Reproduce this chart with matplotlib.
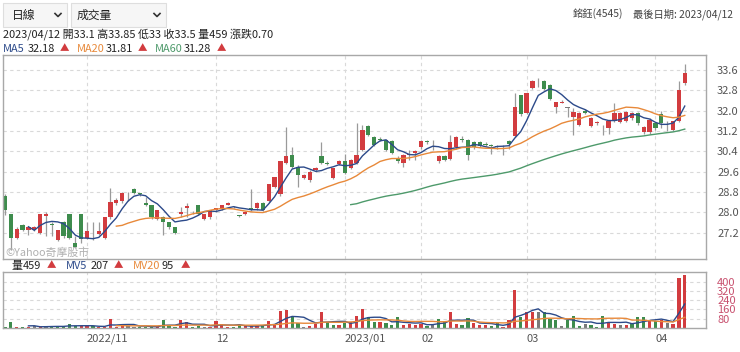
import numpy as np
import pandas as pd
import matplotlib
matplotlib.use('Agg')
import matplotlib.pyplot as plt
from matplotlib.patches import FancyBboxPatch
from matplotlib.lines import Line2D

plt.rcParams['font.family'] = ['Noto Sans CJK TC', 'DejaVu Sans']

# ---------------- data ----------------
opens = [28.65, 27.95, 27.0, 27.5, 27.3, 27.3, 27.2, 27.85, 27.55, 26.9,
         27.6, 27.95, 26.8, 27.95, 27.0, 27.0, 27.15, 27.0, 27.8, 28.35,
         28.45, 28.75, 28.9, 28.75, 28.35, 28.3, 27.75, 27.8, 27.6, 27.4,
         27.95, 28.15, 28.0, 28.3, 27.75, 27.8, 28.1, 28.15, 28.3, 28.2,
         27.9, 27.95, 28.15, 28.15, 28.35, 28.45, 29.0, 28.7, 29.95, 30.25,
         29.8, 29.35, 29.25, 29.65, 30.2, 29.95, 29.35, 29.9, 30.0, 29.75,
         29.95, 30.45, 31.4, 30.95, 30.9, 30.85, 30.8, 30.15, 29.95, 30.25,
         30.35, 30.55, 30.8, 30.75, 30.0, 30.2, 30.1, 30.55, 30.9, 30.85,
         30.75, 30.75, 30.7, 30.65, 30.6, 30.6, 30.8, 31.0, 32.6, 31.9,
         32.9, 33.15, 33.15, 33.0, 32.15, 32.3, 32.1, 31.75, 31.45, 32.0,
         31.4, 31.5, 31.3, 31.3, 31.6, 31.55, 31.6, 31.7, 31.9, 31.15,
         31.15, 31.5, 31.85, 31.5, 31.25, 31.6, 33.1]
highs = [28.7, 27.95, 27.4, 27.55, 27.4, 27.45, 27.95, 28.0, 27.6, 27.3,
         27.65, 27.95, 27.05, 27.95, 27.6, 27.6, 27.6, 27.8, 28.95, 28.55,
         28.8, 28.8, 28.95, 28.75, 28.6, 28.3, 28.1, 27.85, 27.6, 27.4,
         28.2, 28.35, 28.05, 28.3, 27.95, 28.1, 28.15, 28.3, 28.4, 28.25,
         27.9, 28.05, 28.9, 28.4, 28.4, 29.1, 29.4, 30.0, 31.35, 30.55,
         29.85, 29.5, 29.65, 29.8, 30.75, 30.0, 29.75, 30.05, 30.3, 30.1,
         31.5, 31.45, 31.45, 31.0, 30.95, 30.9, 30.85, 30.2, 30.3, 30.45,
         30.45, 30.85, 30.85, 30.85, 30.25, 30.25, 31.05, 31.0, 31.0, 30.9,
         30.8, 30.8, 30.75, 30.7, 30.65, 30.65, 30.85, 32.7, 32.6, 32.7,
         33.2, 33.3, 33.2, 33.05, 32.35, 32.4, 32.15, 32.1, 31.95, 32.05,
         31.75, 31.6, 31.45, 31.6, 32.3, 31.95, 32.0, 31.95, 31.95, 31.4,
         31.7, 31.55, 32.0, 31.6, 31.6, 33.15, 33.85]
lows = [27.9, 26.5, 26.95, 27.25, 27.1, 27.25, 27.15, 27.05, 27.05, 26.85,
        27.0, 26.95, 26.6, 26.8, 26.95, 26.9, 27.1, 26.95, 27.75, 28.3,
        28.35, 28.45, 28.7, 28.65, 28.25, 27.75, 27.7, 27.1, 27.35, 27.15,
        27.8, 27.8, 27.95, 27.9, 27.7, 27.75, 28.0, 28.1, 28.3, 28.15,
        27.8, 27.9, 28.05, 28.1, 28.05, 28.4, 28.95, 28.65, 29.9, 29.75,
        29.0, 29.3, 29.2, 29.6, 29.9, 29.85, 29.3, 29.85, 29.5, 29.7,
        29.9, 30.4, 31.0, 30.6, 30.8, 30.4, 30.3, 29.95, 29.8, 30.05,
        30.05, 30.5, 30.7, 30.45, 29.95, 30.0, 30.05, 30.5, 30.75, 30.05,
        30.5, 30.55, 30.6, 30.3, 30.5, 30.25, 30.5, 30.95, 31.8, 31.85,
        32.85, 32.95, 32.8, 32.4, 31.9, 32.3, 31.75, 31.05, 31.4, 31.85,
        31.35, 31.45, 31.05, 31.1, 31.55, 31.5, 31.55, 31.65, 31.45, 31.1,
        31.1, 31.25, 31.3, 31.2, 31.2, 31.55, 33.0]
closes = [28.1, 27.0, 27.35, 27.3, 27.4, 27.4, 27.95, 27.95, 27.5, 27.3,
          27.05, 27.0, 26.65, 26.95, 27.25, 26.95, 27.25, 27.8, 28.4, 28.5,
          28.75, 28.75, 28.75, 28.7, 28.3, 27.8, 28.1, 27.6, 27.4, 27.2,
          28.0, 28.25, 28.0, 27.95, 27.95, 28.1, 28.15, 28.3, 28.35, 28.2,
          27.85, 28.0, 28.1, 28.35, 28.1, 29.1, 29.4, 30.0, 30.2, 29.8,
          29.45, 29.45, 29.6, 29.75, 29.95, 29.9, 29.75, 30.0, 29.55, 30.05,
          30.25, 31.25, 31.05, 30.65, 30.85, 30.45, 30.35, 30.0, 30.25, 30.3,
          30.4, 30.8, 30.75, 30.75, 30.2, 30.05, 30.75, 30.95, 30.85, 30.25,
          30.55, 30.6, 30.65, 30.6, 30.55, 30.6, 30.7, 32.15, 31.85, 32.7,
          33.15, 33.15, 32.85, 32.45, 32.35, 32.35, 32.1, 31.95, 31.9, 31.9,
          31.7, 31.55, 31.3, 31.6, 31.9, 31.9, 31.95, 31.9, 31.5, 31.35,
          31.65, 31.3, 31.5, 31.5, 31.6, 32.8, 33.5]
volumes = [10, 55, 12, 5, 10, 15, 12, 15, 12, 15,
           15, 35, 18, 15, 15, 15, 12, 12, 78, 12,
           32, 18, 12, 10, 12, 8, 12, 72, 18, 12,
           72, 52, 10, 15, 12, 10, 58, 35, 10, 10,
           29, 15, 15, 18, 26, 58, 35, 148, 151, 107,
           46, 10, 18, 38, 136, 52, 29, 29, 40, 49,
           102, 165, 93, 55, 49, 46, 23, 99, 29, 32,
           29, 35, 17, 32, 75, 55, 142, 35, 29, 84,
           44, 23, 23, 17, 41, 12, 70, 325, 93, 136,
           136, 136, 136, 78, 72, 17, 72, 104, 17, 38,
           29, 12, 107, 55, 38, 26, 26, 41, 93, 93,
           70, 58, 70, 41, 35, 430, 459]

month_ticks = [14, 36, 58, 71, 89, 111]
month_labels = ['2022/11', '12', '2023/01', '02', '03', '04']
price_ticks = [27.2, 28.0, 28.8, 29.6, 30.4, 31.2, 32.0, 32.8, 33.6]
vol_ticks = [80, 160, 240, 320, 400]

# ---------------- styling ----------------
RED = '#d23c3f'
GREEN = '#3e8c4d'
GRAY = '#7a7a7a'
WICK = '#9a9a9a'
C_MA5 = '#2c4a8a'
C_MA20 = '#e8893a'
C_MA60 = '#4e9a6b'
GRID = '#d9d9d9'
SPINE = '#a8a8a8'
FS = 7.9

W, H = 740, 352
fig = plt.figure(figsize=(W / 100, H / 100), dpi=100)
fig.patch.set_facecolor('white')


def fx(x):
    return x / W


def fy(y):
    return 1 - y / H


def T(x, y, s, **kw):
    kw.setdefault('va', 'center')
    kw.setdefault('ha', 'left')
    fig.text(fx(x), fy(y), s, **kw)


o = np.array(opens)
h = np.array(highs)
l = np.array(lows)
c = np.array(closes)
v = np.array(volumes, dtype=float)
idx = np.arange(len(c))

ma5 = pd.Series(c).rolling(5).mean()
ma20 = pd.Series(c).rolling(20).mean()
ma60 = pd.Series(c).rolling(60).mean()
mv5 = pd.Series(v).rolling(5).mean()
mv20 = pd.Series(v).rolling(20).mean()

xl = ((3 - 5) / 5.86, (706 - 5) / 5.86)

# ---------------- main price panel ----------------
ax = fig.add_axes([fx(3), fy(259), fx(706) - fx(3), fy(55) - fy(259)])
ax.set_xlim(*xl)
ax.set_ylim(26.16, 34.19)
ax.vlines(idx, l, h, color=WICK, lw=0.9, zorder=1)
body_col = [RED if cc > oo else (GREEN if cc < oo else GRAY) for oo, cc in zip(o, c)]
heights = np.maximum(np.abs(c - o), 0.025)
bottoms = np.minimum(o, c)
ax.bar(idx, heights, bottom=bottoms, width=0.72, color=body_col, zorder=2, linewidth=0)
ax.plot(idx, ma5, color=C_MA5, lw=1.0, zorder=3)
ax.plot(idx, ma20, color=C_MA20, lw=1.0, zorder=3)
ax.plot(idx, ma60, color=C_MA60, lw=1.0, zorder=3)
ax.set_yticks(price_ticks)
ax.set_yticklabels([f'{t:.1f}' for t in price_ticks])
ax.yaxis.tick_right()
ax.set_xticks(month_ticks)
ax.tick_params(axis='x', length=0, labelbottom=False)
ax.tick_params(axis='y', length=0, pad=8, labelsize=8, labelcolor='#555555')
ax.grid(True, color=GRID, lw=0.8, linestyle=(0, (3, 3)))
ax.set_axisbelow(True)
for s in ax.spines.values():
    s.set_color(SPINE)
    s.set_linewidth(1.0)

# ---------------- volume panel ----------------
av = fig.add_axes([fx(3), fy(328), fx(706) - fx(3), fy(272) - fy(328)])
av.set_xlim(*xl)
av.set_ylim(0, 483)
chg = np.sign(np.diff(c, prepend=o[0]))
vol_col = [RED if s > 0 else (GREEN if s < 0 else GRAY) for s in chg]
av.bar(idx, v, width=0.55, color=vol_col, zorder=2, linewidth=0)
av.plot(idx, mv5, color=C_MA5, lw=1.0, zorder=3)
av.plot(idx, mv20, color=C_MA20, lw=1.0, zorder=3)
av.set_yticks(vol_ticks)
av.yaxis.tick_right()
av.set_xticks(month_ticks)
av.set_xticklabels(month_labels, ha='left')
av.tick_params(axis='x', length=0, pad=4, labelsize=8, labelcolor='#555555')
av.tick_params(axis='y', length=0, pad=8, labelsize=8, labelcolor='#c8506e')
av.grid(True, color=GRID, lw=0.8, linestyle=(0, (3, 3)))
av.set_axisbelow(True)
for s in av.spines.values():
    s.set_color(SPINE)
    s.set_linewidth(1.0)

# ---------------- header widgets ----------------
for (x0, x1) in [(3, 67), (71, 166)]:
    fig.patches.append(FancyBboxPatch((fx(x0), fy(27)), fx(x1) - fx(x0), fy(3) - fy(27),
                                      boxstyle='square,pad=0', transform=fig.transFigure,
                                      facecolor='#f6f6f6', edgecolor='#dedede', lw=0.8))
T(12, 15, '日線', fontsize=8.5, color='#222222')
T(77, 15, '成交量', fontsize=8.5, color='#222222')
for cx in (58, 157):
    fig.lines.append(Line2D([fx(cx - 3), fx(cx), fx(cx + 3)], [fy(13.5), fy(16.5), fy(13.5)],
                            transform=fig.transFigure, color='#333333', lw=1.2))

T(573, 14, '銘鈺(4545)', fontsize=7.4, color='#444444')
T(633, 14, '最後日期: 2023/04/12', fontsize=7.4, color='#444444')

T(3, 34, '2023/04/12 開33.1 高33.85 低33 收33.5 量459 漲跌0.70', fontsize=FS, color='#222222')

T(3, 49, 'MA5', fontsize=FS, color=C_MA5)
T(28, 49, '32.18', fontsize=FS, color='#222222')
T(60, 49, '▲', fontsize=6.8, color=RED)
T(77, 49, 'MA20', fontsize=FS, color=C_MA20)
T(106, 49, '31.81', fontsize=FS, color='#222222')
T(138, 49, '▲', fontsize=6.8, color=RED)
T(155, 49, 'MA60', fontsize=FS, color=C_MA60)
T(184, 49, '31.28', fontsize=FS, color='#222222')
T(217, 49, '▲', fontsize=6.8, color=RED)

T(5, 253, '©Yahoo奇摩股市', fontsize=7.8, color='#b0b0b0')

T(11, 266, '量', fontsize=FS, color='#222222')
T(23, 266, '459', fontsize=FS, color='#222222')
T(47, 266, '▲', fontsize=6.8, color=RED)
T(66, 266, 'MV5', fontsize=FS, color=C_MA5)
T(91, 266, '207', fontsize=FS, color='#222222')
T(114, 266, '▲', fontsize=6.8, color=RED)
T(133, 266, 'MV20', fontsize=FS, color=C_MA20)
T(161, 266, '95', fontsize=FS, color='#222222')
T(181, 266, '▲', fontsize=6.8, color=RED)

fig.savefig('out.png', dpi=100)
